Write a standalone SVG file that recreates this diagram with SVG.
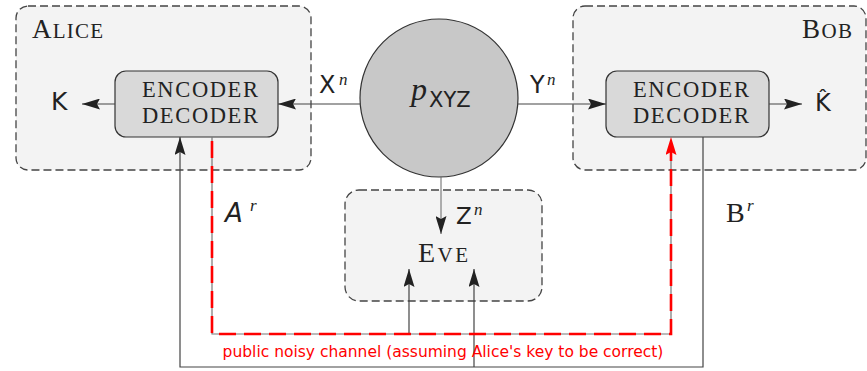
<svg xmlns="http://www.w3.org/2000/svg" width="867" height="371" viewBox="0 0 867 371">
<defs>
<style>
.party{fill:#f3f3f3;stroke:#444;stroke-width:1.3;stroke-dasharray:8,4}
.enc{fill:#d9d9d9;stroke:#333;stroke-width:1.2}
.line{fill:none;stroke:#444;stroke-width:1.2}
.red{fill:none;stroke:#ff0000;stroke-width:2.6;stroke-dasharray:17,8}
.serif{font-family:"Liberation Serif","DejaVu Serif",serif;fill:#222}
.sans{font-family:"DejaVu Sans","Liberation Sans",sans-serif;fill:#222}
.sup{font-family:"Liberation Serif","DejaVu Serif",serif;font-style:italic;font-size:17px;fill:#222}
.redtext{font-family:"DejaVu Sans","Liberation Sans",sans-serif;font-size:15.5px;fill:#ff0000}
</style>
<marker id="ah" markerUnits="userSpaceOnUse" markerWidth="18" markerHeight="11" refX="18" refY="5.5" orient="auto">
<path d="M0,0 L18,5.5 L0,11 L3,5.5 z" fill="#222"/>
</marker>
<marker id="ahr" markerUnits="userSpaceOnUse" markerWidth="18" markerHeight="11" refX="18" refY="5.5" orient="auto">
<path d="M0,0 L18,5.5 L0,11 L3,5.5 z" fill="#ff0000"/>
</marker>
</defs>

<g id="alice">
<rect class="party" x="16" y="6" width="295" height="164" rx="12"/>
<text class="serif" x="32" y="38" textLength="71" lengthAdjust="spacing"><tspan font-size="27">A</tspan><tspan font-size="21">LICE</tspan></text>
</g>
<g id="bob">
<rect class="party" x="573" y="6" width="293" height="164" rx="12"/>
<text class="serif" x="802" y="38" textLength="50" lengthAdjust="spacing"><tspan font-size="27">B</tspan><tspan font-size="21">OB</tspan></text>
</g>
<g id="eve">
<rect class="party" x="345" y="190" width="197" height="111" rx="14"/>
<text class="serif" x="418" y="262" textLength="50" lengthAdjust="spacing"><tspan font-size="28">E</tspan><tspan font-size="21">VE</tspan></text>
</g>

<g id="source">
<circle cx="439" cy="98" r="79" fill="#c8c8c8" stroke="#333" stroke-width="1.2"/>
<text class="serif" x="411" y="100" font-size="32" font-style="italic">p</text>
<text class="sans" x="429" y="107" font-size="21">XYZ</text>
</g>

<g id="alice-encoder">
<rect class="enc" x="115" y="71" width="163" height="66" rx="11"/>
<text class="serif" x="142" y="97" font-size="22.5" textLength="116" lengthAdjust="spacing">ENCODER</text>
<text class="serif" x="142" y="123" font-size="22.5" textLength="116" lengthAdjust="spacing">DECODER</text>
</g>
<g id="bob-encoder">
<rect class="enc" x="606" y="71" width="163" height="66" rx="11"/>
<text class="serif" x="633" y="97" font-size="22.5" textLength="116" lengthAdjust="spacing">ENCODER</text>
<text class="serif" x="633" y="123" font-size="22.5" textLength="116" lengthAdjust="spacing">DECODER</text>
</g>

<g id="connectors">
<line class="line" x1="115" y1="104" x2="82" y2="104" marker-end="url(#ah)"/>
<line class="line" x1="360" y1="104" x2="278" y2="104" marker-end="url(#ah)"/>
<line class="line" x1="518" y1="104" x2="606" y2="104" marker-end="url(#ah)"/>
<line class="line" x1="769" y1="104" x2="802" y2="104" marker-end="url(#ah)"/>
<line x1="441" y1="177" x2="441" y2="234" stroke="#666" stroke-width="1" marker-end="url(#ah)"/>
<polyline class="line" points="703,137 703,367 180,367 180,137" marker-end="url(#ah)"/>
<line class="line" x1="474" y1="367" x2="474" y2="269" marker-end="url(#ah)"/>
<polyline points="212,137 212,334 671,334 671,140" fill="none" stroke="#777" stroke-width="1.2"/>
<line class="line" x1="409" y1="334" x2="409" y2="269" marker-end="url(#ah)"/>
<polyline class="red" points="212,141 212,334 671,334 671,137" marker-end="url(#ahr)"/>
</g>

<g id="labels">
<text class="sans" x="51" y="110" font-size="25">K</text>
<text class="sans" x="815" y="111" font-size="24">K̂</text>
<text class="sans" x="319" y="93" font-size="24">X</text>
<text class="sup" x="339" y="85">n</text>
<text class="sans" x="530" y="93" font-size="24">Y</text>
<text class="sup" x="547" y="85">n</text>
<text class="sans" x="456" y="224" font-size="23">Z</text>
<text class="sup" x="474" y="215">n</text>
<text class="sans" x="225" y="222" font-size="26" font-style="italic">A</text>
<text class="sup" x="250" y="211">r</text>
<text class="serif" x="726" y="222" font-size="28">B</text>
<text class="sup" x="747" y="211">r</text>
<text class="redtext" x="443" y="357" text-anchor="middle">public noisy channel (assuming Alice's key to be correct)</text>
</g>
</svg>
